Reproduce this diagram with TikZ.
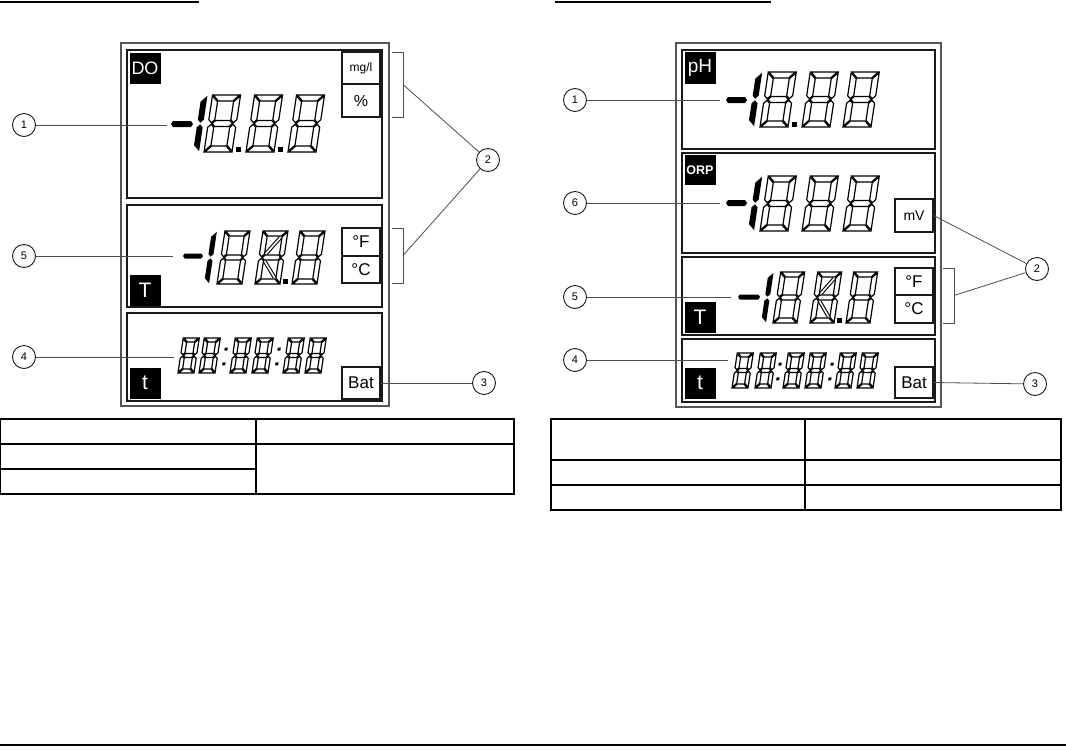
\documentclass[tikz,border=0pt]{standalone}
\usepackage{fontspec}
\setmainfont{Liberation Sans}
\usepackage{tikz}
\definecolor{framegray}{HTML}{555555}
\definecolor{panelblack}{HTML}{1A1A1A}
\definecolor{leadgray}{HTML}{4D4D4D}

\tikzset{
  devframe/.style={draw=framegray, line width=1.6pt},
  panelbox/.style={draw=panelblack, line width=1.8pt},
  tagbox/.style={fill=black, text=white, inner sep=0pt, minimum width=31pt, minimum height=31pt},
  unitbox/.style={draw=panelblack, fill=white, line width=1.2pt, inner sep=0pt, minimum width=38pt},
  callout/.style={draw=panelblack, fill=white, circle, line width=0.9pt, minimum size=23pt, inner sep=0pt, font=\fontsize{11}{12}\selectfont},
  leader/.style={draw=leadgray, line width=0.8pt},
  segoff/.style={draw=black, fill=white, line width=1.2pt, line join=miter},
  segon/.style={fill=black},
  segdiag/.style={draw=black, line width=1.1pt, double=white, double distance=1.6pt},
  tabline/.style={draw=black, line width=1.3pt}
}

\newcommand{\lcdslant}{0.15}
% outlined 8: bottom-left x, y, width, height, segment thickness
\newcommand{\lcdeight}[5]{%
  \begin{scope}[shift={(#1,#2)}, xslant=\lcdslant, yscale=-1]
    \pgfmathsetmacro\sw{#3}\pgfmathsetmacro\sh{#4}\pgfmathsetmacro\sm{#4/2}
    \pgfmathsetmacro\sa{#5/2}\pgfmathsetmacro\sb{#5}
    % top, bottom, middle
    \path[segoff] (0.8,\sh) -- (\sw-0.8,\sh) -- (\sw-\sb-0.8,\sh-\sb) -- (\sb+0.8,\sh-\sb) -- cycle;
    \path[segoff] (0.8,0) -- (\sw-0.8,0) -- (\sw-\sb-0.8,\sb) -- (\sb+0.8,\sb) -- cycle;
    \path[segoff] (\sa+0.8,\sm) -- (\sb+0.8,\sm+\sa) -- (\sw-\sb-0.8,\sm+\sa) -- (\sw-\sa-0.8,\sm) -- (\sw-\sb-0.8,\sm-\sa) -- (\sb+0.8,\sm-\sa) -- cycle;
    % left and right sides
    \foreach \mir in {0,1} {
      \begin{scope}[shift={(\mir*\sw,0)}, xscale=1-2*\mir]
        \path[segoff] (0,\sh-0.8) -- (\sb,\sh-\sb-0.8) -- (\sb,\sm+\sa+0.8) -- (\sa,\sm+0.8) -- (0,\sm+\sa+0.8) -- cycle;
        \path[segoff] (0,0.8) -- (\sb,\sb+0.8) -- (\sb,\sm-\sa-0.8) -- (\sa,\sm-0.8) -- (0,\sm-\sa-0.8) -- cycle;
      \end{scope}
    }
  \end{scope}}
% lit 1: bottom-left x, y, height, thickness
\newcommand{\lcdone}[4]{%
  \begin{scope}[shift={(#1,#2)}, xslant=\lcdslant, yscale=-1]
    \pgfmathsetmacro\sh{#3}\pgfmathsetmacro\sm{#3/2}
    \pgfmathsetmacro\sa{#4/2}\pgfmathsetmacro\sb{#4}
    \path[segon] (\sb,\sh-0.8) -- (0,\sh-\sb-0.8) -- (0,\sm+\sa+0.8) -- (\sa,\sm+0.8) -- (\sb,\sm+\sa+0.8) -- cycle;
    \path[segon] (\sb,0.8) -- (0,\sb+0.8) -- (0,\sm-\sa-0.8) -- (\sa,\sm-0.8) -- (\sb,\sm-\sa-0.8) -- cycle;
  \end{scope}}
% lit minus: left x, right x, mid y, thickness
\newcommand{\lcdminus}[4]{%
  \path[segon] (#1,#3) -- (#1+#4/3,#3-#4/2) -- (#2-#4/3,#3-#4/2) -- (#2,#3) -- (#2-#4/3,#3+#4/2) -- (#1+#4/3,#3+#4/2) -- cycle;}
% decimal point: left x, bottom y, size
\newcommand{\lcddot}[3]{\path[segon] (#1,#2) rectangle ++(#3,-#3);}
% colon: bottom-left x, y, height, size
\newcommand{\lcdcolon}[4]{%
  \begin{scope}[shift={(#1,#2)}, xslant=\lcdslant, yscale=-1]
    \path[segon] (0,0.22*#3) rectangle ++(#4,#4);
    \path[segon] (0,0.64*#3) rectangle ++(#4,#4);
  \end{scope}}
% diagonal segments: bottom-left x, y, width, height, thickness
\newcommand{\lcddiag}[5]{%
  \begin{scope}[shift={(#1,#2)}, xslant=\lcdslant, yscale=-1]
    \draw[segdiag] (#3-#5-1.5,#4-#5-1.5) -- (#5+1.5,#4/2+#5/2+1.5);
    \draw[segdiag] (#5+1.5,#4/2-#5/2-1.5) -- (#3-#5-1.5,#5+1.5);
  \end{scope}}

\begin{document}
\begin{tikzpicture}[x=1pt, y=-1pt]
  \useasboundingbox (0,0) rectangle (1066,750);
  % page rules
  \draw[line width=2pt] (0,2) -- (199,2);
  \draw[line width=2pt] (555,2) -- (771,2);
  \draw[line width=1.3pt] (0,745) -- (1066,745);

  % ---------- DO display ----------
  \draw[devframe] (121,43) rectangle (389,406);
  \draw[panelbox] (127,50) rectangle (382,198);
  \draw[panelbox] (127,205) rectangle (382,307);
  \draw[panelbox] (127,313) rectangle (382,401);
  % DO panel
  \node[tagbox, font=\fontsize{18}{20}\selectfont] (dotag) at (145,68) {DO};
  \node[unitbox, minimum height=32pt, font=\fontsize{12}{14}\selectfont] (mgl) at (361,68) {mg/l};
  \node[unitbox, minimum height=33pt, font=\fontsize{16}{18}\selectfont] (pct) at (361,100.5) {\%};
  \lcdminus{171}{193}{124}{6}
  \lcdone{193}{152}{57}{6}
  \foreach \dx in {204,246,288} \lcdeight{\dx}{152}{28}{57}{6};
  \lcddot{236}{152}{5}
  \lcddot{278}{152}{5}
  % temperature panel
  \node[tagbox, font=\fontsize{21}{23}\selectfont] (ttag) at (145,290) {T};
  \node[unitbox, minimum height=28pt, font=\fontsize{17}{19}\selectfont] (degf) at (361,242) {°F};
  \node[unitbox, minimum height=27pt, font=\fontsize{17}{19}\selectfont] (degc) at (361,269.5) {°C};
  \lcdminus{183}{203}{256}{5}
  \lcdone{204}{284}{53}{5}
  \foreach \dx in {217,255,292} \lcdeight{\dx}{284}{25}{53}{5};
  \lcddiag{255}{284}{25}{53}{5}
  \lcddot{283}{284}{5}
  % time panel
  \node[tagbox, font=\fontsize{21}{23}\selectfont] (timetag) at (145,383) {t};
  \node[unitbox, minimum height=32pt, font=\fontsize{17}{19}\selectfont] (batl) at (361,383) {Bat};
  \foreach \dx in {178,199,230,252,283,305} \lcdeight{\dx}{373}{16}{35}{4};
  \lcdcolon{221}{373}{35}{3}
  \lcdcolon{274}{373}{35}{3}
  % brackets
  \draw[leader] (392,52) -- (403,52) -- (403,117) -- (392,117);
  \draw[leader] (392,228) -- (403,228) -- (403,283) -- (392,283);
  \coordinate (brkup) at (403,84.5);
  \coordinate (brklo) at (403,255.5);
  % callouts
  \node[callout] (c1l) at (24,125) {1};
  \node[callout] (c2l) at (488,160) {2};
  \node[callout] (c3l) at (484,383) {3};
  \node[callout] (c4l) at (24,357) {4};
  \node[callout] (c5l) at (24,256) {5};
  \coordinate (d1l) at (167,125);
  \coordinate (d4l) at (174,357);
  \coordinate (d5l) at (173,256);
  \draw[leader] (c1l) -- (d1l);
  \draw[leader] (brkup) -- (c2l);
  \draw[leader] (brklo) -- (c2l);
  \draw[leader] (batl.east) -- (c3l);
  \draw[leader] (c4l) -- (d4l);
  \draw[leader] (c5l) -- (d5l);

  % ---------- pH / ORP display ----------
  \draw[devframe] (676,43) rectangle (941,407);
  \draw[panelbox] (682,50) rectangle (935,149);
  \draw[panelbox] (682,153) rectangle (935,253);
  \draw[panelbox] (682,257) rectangle (935,335);
  \draw[panelbox] (682,339) rectangle (935,402);
  % pH panel
  \node[tagbox, minimum height=32pt, font=\fontsize{19}{21}\selectfont] (phtag) at (700,68) {pH};
  \lcdminus{726}{747}{100}{6}
  \lcdone{748}{127}{55}{6}
  \foreach \dx in {760,802,843} \lcdeight{\dx}{127}{28}{55}{6};
  \lcddot{792}{127}{5}
  % ORP panel
  \node[tagbox, minimum height=30pt, font=\bfseries\fontsize{12.5}{14}\selectfont] (orptag) at (700,170) {ORP};
  \node[unitbox, minimum height=33pt, font=\fontsize{14}{16}\selectfont] (mvr) at (914,215.5) {mV};
  \lcdminus{726}{747}{203}{6}
  \lcdone{748}{231}{55}{6}
  \foreach \dx in {760,802,843} \lcdeight{\dx}{231}{28}{55}{6};
  % temperature panel
  \node[tagbox, font=\fontsize{21}{23}\selectfont] (ttagr) at (700,317.5) {T};
  \node[unitbox, minimum height=27pt, font=\fontsize{17}{19}\selectfont] (degfr) at (914,281.5) {°F};
  \node[unitbox, minimum height=28pt, font=\fontsize{17}{19}\selectfont] (degcr) at (914,309) {°C};
  \lcdminus{738}{760}{297}{5}
  \lcdone{761}{323}{51}{5}
  \foreach \dx in {773,810,846} \lcdeight{\dx}{323}{24}{51}{5};
  \lcddiag{810}{323}{24}{51}{5}
  \lcddot{837}{323}{5}
  % time panel
  \node[tagbox, font=\fontsize{21}{23}\selectfont] (timetagr) at (700,383) {t};
  \node[unitbox, minimum height=31pt, font=\fontsize{17}{19}\selectfont] (batr) at (914,382.5) {Bat};
  \foreach \dx in {732,755,783,805,835,857} \lcdeight{\dx}{388}{16}{35}{4};
  \lcdcolon{775}{388}{35}{3}
  \lcdcolon{827}{388}{35}{3}
  % bracket
  \draw[leader] (943,268) -- (954,268) -- (954,323) -- (943,323);
  \coordinate (brkr) at (954,295.5);
  % callouts
  \node[callout] (c1r) at (575,100) {1};
  \node[callout] (c2r) at (1037,269) {2};
  \node[callout] (c3r) at (1035,384) {3};
  \node[callout] (c4r) at (575,360) {4};
  \node[callout] (c5r) at (575,297) {5};
  \node[callout] (c6r) at (575,203) {6};
  \coordinate (d1r) at (720,100);
  \coordinate (d4r) at (728,360);
  \coordinate (d5r) at (731,297);
  \coordinate (d6r) at (720,203);
  \draw[leader] (c1r) -- (d1r);
  \draw[leader] (mvr.east) -- (c2r);
  \draw[leader] (brkr) -- (c2r);
  \draw[leader] (batr.east) -- (c3r);
  \draw[leader] (c4r) -- (d4r);
  \draw[leader] (c5r) -- (d5r);
  \draw[leader] (c6r) -- (d6r);

  % ---------- tables ----------
  \draw[tabline] (0.8,419) rectangle (514,494);
  \draw[tabline] (256,419) -- (256,494);
  \draw[tabline] (0.8,444) -- (514,444);
  \draw[tabline] (0.8,469) -- (256,469);
  \draw[tabline] (551,419) rectangle (1061,510);
  \draw[tabline] (805,419) -- (805,510);
  \draw[tabline] (551,460) -- (1061,460);
  \draw[tabline] (551,485) -- (1061,485);
\end{tikzpicture}
\end{document}
